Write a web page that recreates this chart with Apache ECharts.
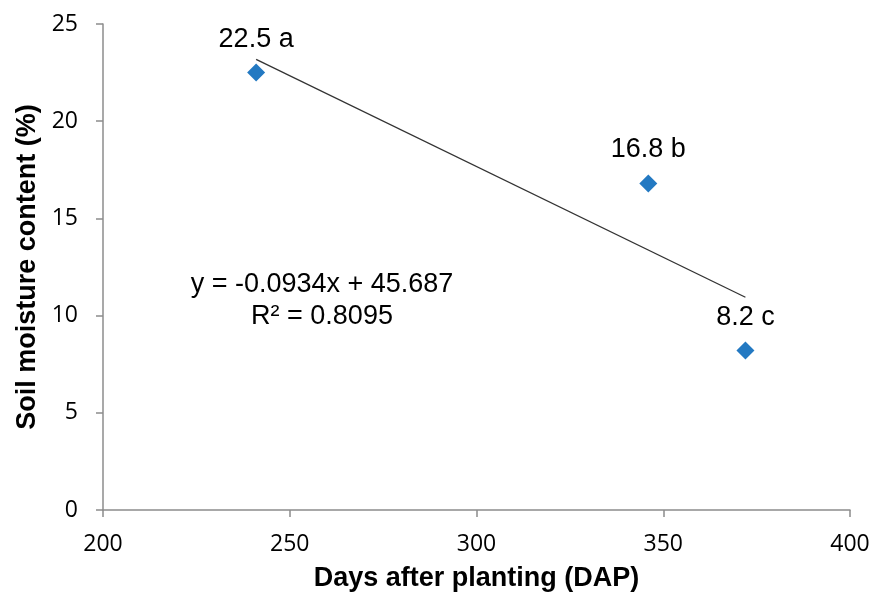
<!DOCTYPE html>
<html>
<head>
<meta charset="utf-8">
<script src="https://cdn.jsdelivr.net/npm/echarts@6/dist/echarts.min.js"></script>
<style>html,body{margin:0;padding:0;background:#fff}#c{width:875px;height:597px}</style>
</head>
<body>
<div id="c"></div>
<script>
const daysAfterPlanting = [241, 346, 372];
const soilMoisture = [22.5, 16.8, 8.2];
const letters = ['a', 'b', 'c'];
const trendSlope = -0.0934;
const trendIntercept = 45.687;
const rSquared = 0.8095;
const trendX = [241, 372];
const xTicks = [200, 250, 300, 350, 400];
const yTicks = [0, 5, 10, 15, 20, 25];

const chart = echarts.init(document.getElementById('c'));
const axisColor = '#8c8c8c';
chart.setOption({
  animation: false,
  backgroundColor: '#fff',
  grid: { left: 103, right: 25, top: 24, bottom: 87 },
  xAxis: {
    type: 'value', min: xTicks[0], max: xTicks[xTicks.length - 1], interval: 50,
    name: 'Days after planting (DAP)', nameLocation: 'middle', nameGap: 55,
    nameTextStyle: { fontFamily: 'Liberation Sans', fontWeight: 'bold', fontSize: 27, color: '#000' },
    axisLine: { show: true, onZero: false, lineStyle: { color: axisColor, width: 1.5 } },
    axisTick: { show: true, inside: false, length: 7, lineStyle: { color: axisColor, width: 1.5 } },
    axisLabel: { fontFamily: 'Open Sans', fontSize: 23, color: '#000', margin: 23 },
    splitLine: { show: false }
  },
  yAxis: {
    type: 'value', min: yTicks[0], max: yTicks[yTicks.length - 1], interval: 5,
    name: 'Soil moisture content (%)', nameLocation: 'middle', nameGap: 59,
    nameTextStyle: { fontFamily: 'Liberation Sans', fontWeight: 'bold', fontSize: 27, color: '#000' },
    axisLine: { show: true, lineStyle: { color: axisColor, width: 1.5 } },
    axisTick: { show: true, inside: false, length: 7, lineStyle: { color: axisColor, width: 1.5 } },
    axisLabel: { fontFamily: 'Open Sans', fontSize: 23, color: '#000', margin: 25 },
    splitLine: { show: false }
  },
  series: [
    {
      type: 'line',
      data: trendX.map(x => [x, trendSlope * x + trendIntercept]),
      symbol: 'none',
      lineStyle: { color: '#333', width: 1.3 },
      z: 1
    },
    {
      type: 'scatter',
      data: daysAfterPlanting.map((x, i) => [x, soilMoisture[i], letters[i]]),
      symbol: 'diamond',
      symbolSize: [18, 18],
      itemStyle: { color: '#2379c2', opacity: 1 },
      emphasis: { disabled: true },
      label: {
        show: true, position: 'top', distance: 11,
        formatter: p => p.value[1].toFixed(1) + ' ' + p.value[2],
        fontFamily: 'Liberation Sans', fontSize: 27, color: '#000', opacity: 1
      },
      z: 3
    }
  ],
  graphic: [
    {
      type: 'text', x: 322, y: 285,
      style: { text: 'y = ' + trendSlope + 'x + ' + trendIntercept, fontFamily: 'Liberation Sans', fontSize: 27, fill: '#000', align: 'center', verticalAlign: 'middle' }
    },
    {
      type: 'text', x: 322, y: 317,
      style: { text: 'R² = ' + rSquared, fontFamily: 'Liberation Sans', fontSize: 27, fill: '#000', align: 'center', verticalAlign: 'middle' }
    }
  ]
});
</script>
</body>
</html>
